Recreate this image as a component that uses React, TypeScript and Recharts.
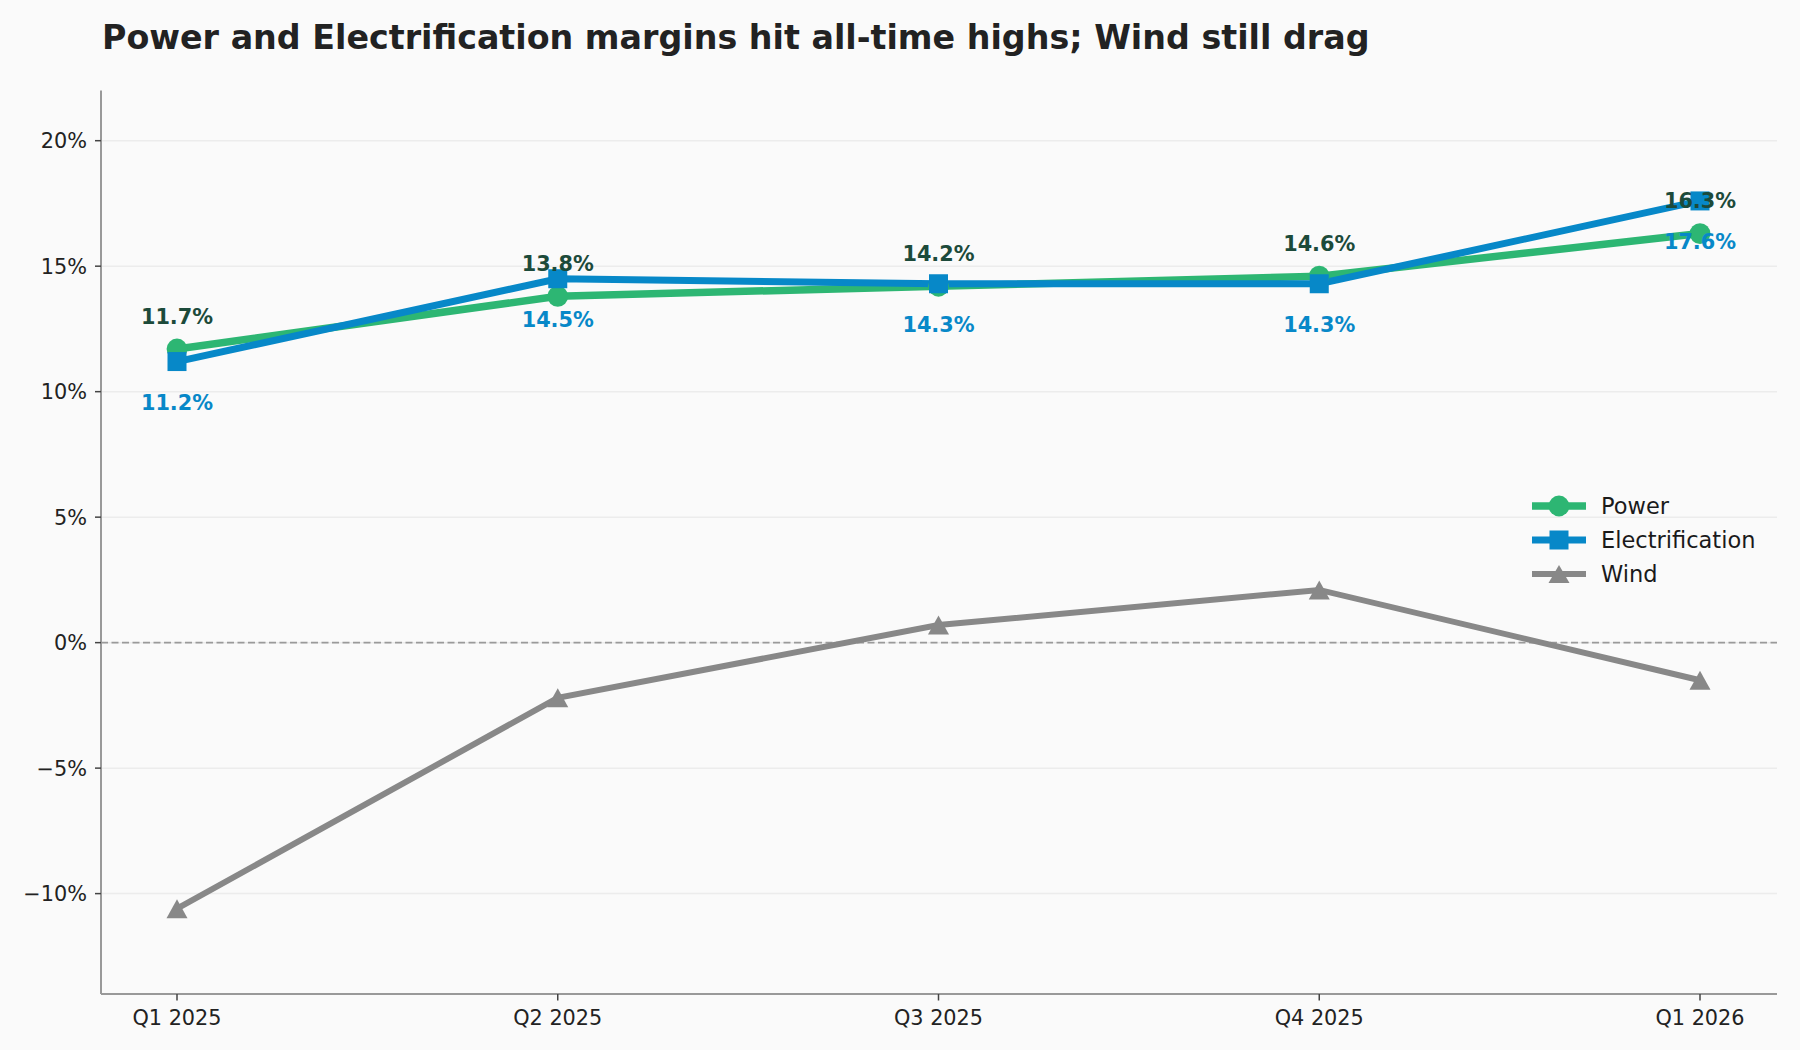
import { CartesianGrid, LabelList, Legend, Line, LineChart, ReferenceLine, XAxis, YAxis } from "recharts";

const QUARTERS = ["Q1 2025", "Q2 2025", "Q3 2025", "Q4 2025", "Q1 2026"];
const POWER = [11.7, 13.8, 14.2, 14.6, 16.3];
const ELECTRIFICATION = [11.2, 14.5, 14.3, 14.3, 17.6];
const WIND = [-10.6, -2.2, 0.7, 2.1, -1.5];
const Y_TICKS = [-10, -5, 0, 5, 10, 15, 20];

const GREEN = "#2db673";
const BLUE = "#0788c8";
const GRAY = "#888888";
const DARK_GREEN = "#1c4a3a";
const FONT = "'DejaVu Sans', sans-serif";

const data = QUARTERS.map((q, i) => ({
  quarter: q,
  power: POWER[i],
  electrification: ELECTRIFICATION[i],
  wind: WIND[i],
}));

function pct(v: number): string {
  return `${v < 0 ? "\u2212" + Math.abs(v) : v}%`;
}

function CircleDot(props: any) {
  const { cx, cy, index } = props;
  return <circle key={`c-${index}`} cx={cx} cy={cy} r={10.4} fill={GREEN} />;
}

function SquareDot(props: any) {
  const { cx, cy, index } = props;
  return <rect key={`s-${index}`} x={cx - 9.5} y={cy - 9.5} width={19} height={19} fill={BLUE} />;
}

function TriangleDot(props: any) {
  const { cx, cy, index } = props;
  return (
    <polygon
      key={`t-${index}`}
      points={`${cx},${cy - 9.5} ${cx - 10.5},${cy + 9.5} ${cx + 10.5},${cy + 9.5}`}
      fill={GRAY}
    />
  );
}

function powerLabel(props: any) {
  const { x, y, value } = props;
  return (
    <text x={x} y={y - 25.5} textAnchor="middle" fontFamily={FONT} fontSize={20.8} fontWeight="bold" fill={DARK_GREEN}>
      {Number(value).toFixed(1)}%
    </text>
  );
}

function elecLabel(props: any) {
  const { x, y, value } = props;
  return (
    <text x={x} y={y + 48} textAnchor="middle" fontFamily={FONT} fontSize={20.8} fontWeight="bold" fill={BLUE}>
      {Number(value).toFixed(1)}%
    </text>
  );
}

const LEGEND_ITEMS = [
  { label: "Power", color: GREEN, width: 7.5, marker: "circle" },
  { label: "Electrification", color: BLUE, width: 7, marker: "square" },
  { label: "Wind", color: GRAY, width: 6, marker: "triangle" },
];

function LegendBox() {
  return (
    <div style={{ fontFamily: FONT, fontSize: 22.5, color: "#1a1a1a" }}>
      {LEGEND_ITEMS.map((it) => (
        <div key={it.label} style={{ display: "flex", alignItems: "center", height: 34 }}>
          <svg width={56} height={24} style={{ marginRight: 14 }}>
            <line x1={1} y1={12} x2={55} y2={12} stroke={it.color} strokeWidth={it.width} />
            {it.marker === "circle" && <circle cx={28} cy={12} r={10.4} fill={it.color} />}
            {it.marker === "square" && <rect x={18.5} y={2.5} width={19} height={19} fill={it.color} />}
            {it.marker === "triangle" && <polygon points="28,3 17.5,21 38.5,21" fill={it.color} />}
          </svg>
          <span>{it.label}</span>
        </div>
      ))}
    </div>
  );
}

export default function App() {
  return (
    <div
      style={{
        position: "fixed",
        left: 0,
        top: 0,
        width: 1800,
        height: 1050,
        background: "#fafafa",
        fontFamily: FONT,
      }}
    >
      <div
        style={{
          position: "absolute",
          left: 102,
          top: 21,
          fontSize: 33.3,
          lineHeight: 1,
          fontWeight: "bold",
          color: "#222222",
          whiteSpace: "nowrap",
        }}
      >
        Power and Electrification margins hit all-time highs; Wind still drag
      </div>
      <LineChart width={1800} height={1050} data={data} margin={{ top: 90.5, right: 23, bottom: 16, left: 0 }}>
        <CartesianGrid stroke="#ececec" strokeWidth={1.5} vertical={false} horizontalValues={Y_TICKS} />
        <XAxis
          dataKey="quarter"
          padding={{ left: 76, right: 77 }}
          height={40}
          tick={{ fill: "#222222", fontSize: 20.8, fontFamily: FONT }}
          tickSize={6.5}
          tickMargin={10}
          axisLine={{ stroke: "#999999", strokeWidth: 2 }}
          tickLine={{ stroke: "#444444", strokeWidth: 1.5 }}
        />
        <YAxis
          type="number"
          domain={[-14, 22]}
          ticks={Y_TICKS}
          width={101}
          tickFormatter={pct}
          tick={{ fill: "#222222", fontSize: 20.8, fontFamily: FONT }}
          tickSize={6}
          tickMargin={8}
          axisLine={{ stroke: "#999999", strokeWidth: 2 }}
          tickLine={{ stroke: "#444444", strokeWidth: 1.5 }}
        />
        <ReferenceLine y={0} stroke="#9a9a9a" strokeWidth={1.8} strokeDasharray="7 3.5" />
        <Line
          dataKey="power"
          name="Power"
          stroke={GREEN}
          strokeWidth={7.5}
          dot={CircleDot}
          activeDot={false}
          isAnimationActive={false}
        >
          <LabelList dataKey="power" content={powerLabel} />
        </Line>
        <Line
          dataKey="electrification"
          name="Electrification"
          stroke={BLUE}
          strokeWidth={7}
          dot={SquareDot}
          activeDot={false}
          isAnimationActive={false}
        >
          <LabelList dataKey="electrification" content={elecLabel} />
        </Line>
        <Line
          dataKey="wind"
          name="Wind"
          stroke={GRAY}
          strokeWidth={6}
          dot={TriangleDot}
          activeDot={false}
          isAnimationActive={false}
        />
        <Legend
          layout="horizontal"
          align="center"
          verticalAlign="middle"
          content={() => <LegendBox />}
          wrapperStyle={{ left: 1531, top: 489, width: 260, height: 110 }}
        />
      </LineChart>
    </div>
  );
}
